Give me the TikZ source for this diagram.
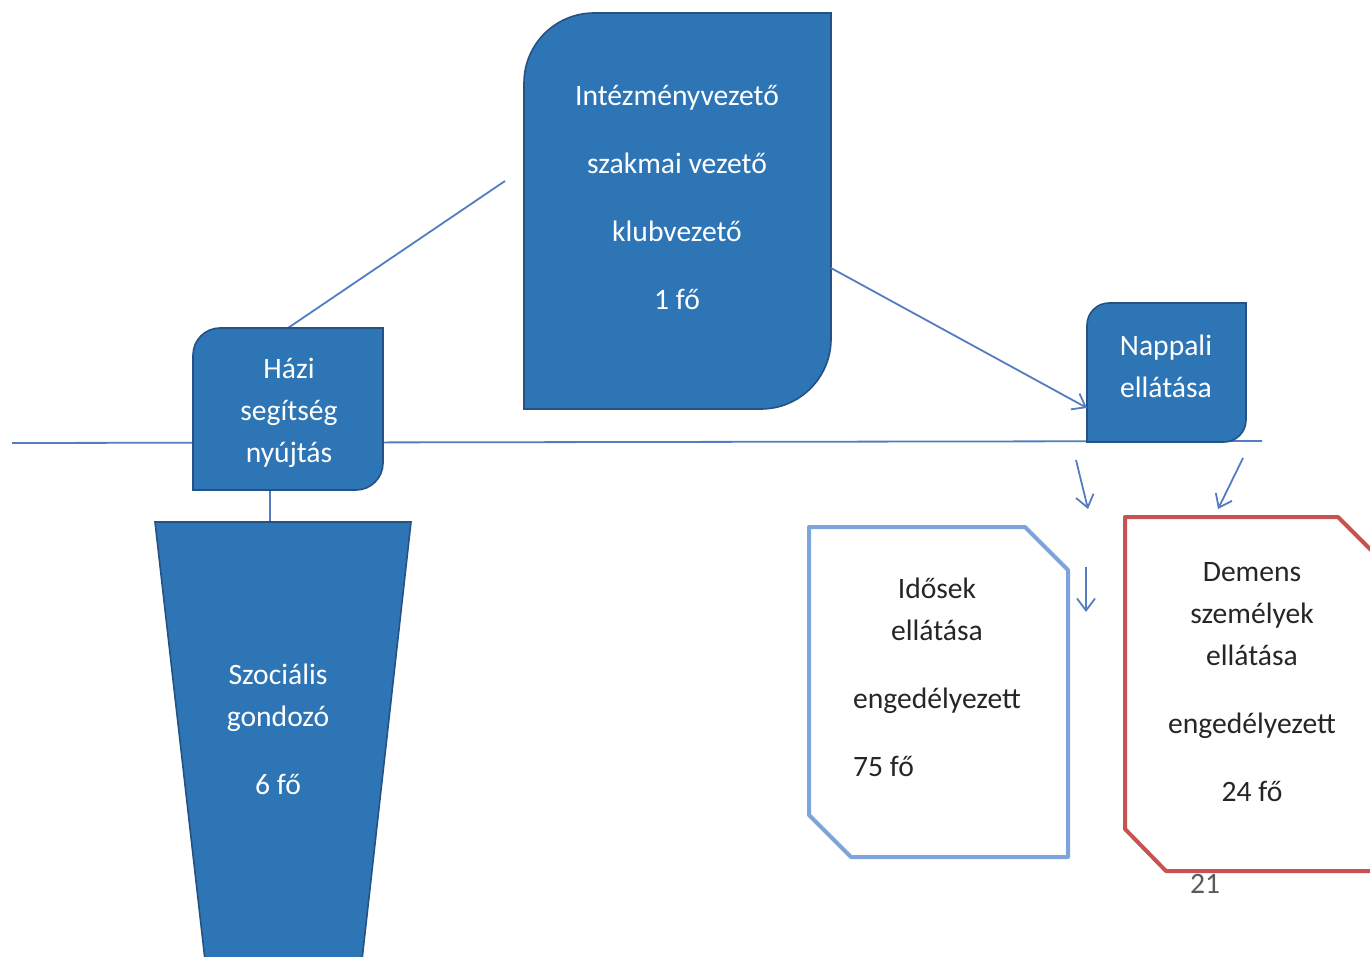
\documentclass[tikz,border=0pt]{standalone}
\usepackage{fontspec}
\setmainfont{Carlito}
\usetikzlibrary{arrows.meta,calc}
\definecolor{boxblue}{RGB}{46,117,182}
\definecolor{boxedge}{RGB}{36,82,132}
\definecolor{linkblue}{RGB}{84,124,192}
\definecolor{idblue}{RGB}{125,165,220}
\definecolor{dmred}{RGB}{200,82,82}
\definecolor{txtdark}{RGB}{38,38,38}
\definecolor{pagegray}{RGB}{90,90,90}
\begin{document}
\begin{tikzpicture}[x=0.5pt,y=-0.5pt,
  solidbox/.style={fill=boxblue,draw=boxedge,line width=0.8pt},
  holder/.style={inner sep=0pt,outer sep=0pt},
  whitetext/.style={text=white,font=\fontsize{14.8}{21}\selectfont,align=center,inner sep=0pt},
  darktext/.style={text=txtdark,font=\fontsize{14.8}{21}\selectfont,align=center,inner sep=0pt},
  link/.style={draw=linkblue,line width=0.9pt},
  arr/.style={link,-{Straight Barb[length=6pt,width=9pt]}}]
\useasboundingbox (0,0) rectangle (1370,957);
\clip (0,0) rectangle (1370,957);

% placeholder nodes for shapes
\node[holder,minimum width=153.5pt,minimum height=198pt] (top) at (677.5,211) {};
\node[holder,minimum width=95pt,minimum height=81pt] (hazi) at (288,409) {};
\node[holder,minimum width=79.5pt,minimum height=69.5pt] (nap) at (1166.5,372.5) {};
\coordinate (trtop) at (270,522);
\coordinate (hl) at (12,443);
\coordinate (hr) at (1262,441);
\coordinate (freeend) at (505,181);

% horizontal line behind boxes
\draw[link] (hl) -- (hr);

% connectors
\draw[link] (hazi.north) -- (freeend);
\draw[link] (hazi.south -| trtop) -- (trtop);

% top box
\path[solidbox] (524,83) .. controls (524,44.4) and (555.4,13) .. (594,13) -- (831,13)
  -- (831,339) .. controls (831,377.6) and (799.6,409) .. (761,409) -- (524,409) -- cycle;
% Hazi box
\path[solidbox] (193,355) .. controls (193,340.1) and (205.1,328) .. (220,328) -- (383,328)
  -- (383,463) .. controls (383,477.9) and (370.9,490) .. (356,490) -- (193,490) -- cycle;
% Nappali box
\path[solidbox] (1087,325) .. controls (1087,312.9) and (1096.9,303) .. (1109,303) -- (1246,303)
  -- (1246,420) .. controls (1246,432.1) and (1236.1,442) .. (1224,442) -- (1087,442) -- cycle;
% trapezoid
\path[solidbox] (155,522) -- (411,522) -- (362,960) -- (205,960) -- cycle;

% outlined boxes
\draw[idblue,line width=2pt,line join=round] (809,527) -- (1025,527) -- (1068,570) -- (1068,857)
  -- (851,857) -- (809,815) -- cycle;
\draw[dmred,line width=2pt,line join=round] (1125,517) -- (1338,517) -- (1400,579) -- (1400,871)
  -- (1166,871) -- (1125,829) -- cycle;

% arrows
\draw[arr] ($(top.north east)!0.644!(top.south east)$) -- ($(nap.north west)!0.755!(nap.south west)$);
\coordinate (a1s) at (1076,460); \coordinate (a1e) at (1088,509);
\coordinate (a2s) at (1243,458); \coordinate (a2e) at (1218,509);
\coordinate (a3s) at (1086,567); \coordinate (a3e) at (1086,612);
\draw[arr] (a1s) -- (a1e);
\draw[arr] (a2s) -- (a2e);
\draw[arr] (a3s) -- (a3e);

% texts
\node[whitetext] (toptxt) at (677,197) {Intézményvezető\\[13pt]szakmai vezető\\[13pt]klubvezető\\[13pt]1 fő};
\node[whitetext] (hazitxt) at (289,413) {Házi\\segítség\\nyújtás};
\node[whitetext] (naptxt) at (1166,366) {Nappali\\ellátása};
\node[whitetext] (sztxt) at (278,729) {Szociális\\gondozó\\[13pt]6 fő};
\node[darktext] (idtxt) at (937,680) {Idősek\\ellátása\\[13pt]engedélyezett\\[13pt]\rlap{75 fő}\phantom{engedélyezett}};
\node[darktext] (dmtxt) at (1252,682) {Demens\\személyek\\ellátása\\[13pt]engedélyezett\\[13pt]24 fő};
\node[text=pagegray,font=\fontsize{14.8}{17}\selectfont,inner sep=0pt] (page) at (1205,884) {21};
\end{tikzpicture}
\end{document}
